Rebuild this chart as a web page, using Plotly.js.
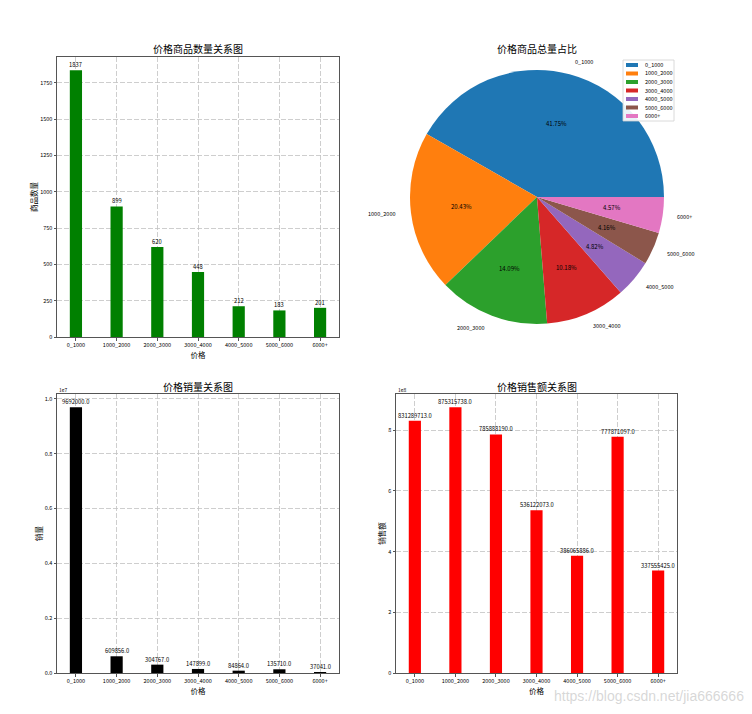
<!DOCTYPE html>
<html>
<head>
<meta charset="utf-8">
<script src="https://cdn.plot.ly/plotly-3.0.1.min.js"></script>
<style>html,body{margin:0;padding:0;background:#fff;}#chart{width:752px;height:714px;}</style>
</head>
<body>
<div id="chart"></div>
<script>
const categories = ['0_1000','1000_2000','2000_3000','3000_4000','4000_5000','5000_6000','6000+'];
const counts = [1837, 899, 620, 448, 212, 183, 201];
const sales = [9692000, 609856, 304767, 147899, 84864, 135710, 37041];
const revenue = [831289713, 875315738, 785888190, 536122073, 386065886, 777871097, 337555425];
const pieColors = ['#1f77b4','#ff7f0e','#2ca02c','#d62728','#9467bd','#8c564b','#e377c2'];
const countTickVals = [0, 250, 500, 750, 1000, 1250, 1500, 1750];
const salesTickVals = [0, 2e6, 4e6, 6e6, 8e6, 1e7];
const salesTickText = ['0.0', '0.2', '0.4', '0.6', '0.8', '1.0'];
const revenueTickVals = [0, 2e8, 4e8, 6e8, 8e8];
const revenueTickText = ['0', '2', '4', '6', '8'];

const W = 752, H = 714;
const px = v => v / W;
const py = v => 1 - v / H;
const FONT = '"Noto Sans CJK SC", "DejaVu Sans", sans-serif';

const annotations = [];

function barTrace(vals, color, xa, ya, fmt) {
  vals.forEach((v, i) => annotations.push({
    xref: xa, yref: ya, x: categories[i], y: v, text: fmt(v), showarrow: false,
    xanchor: 'center', yanchor: 'bottom', borderpad: 0, font: {size: 5.8, color: '#000', family: FONT}
  }));
  return {
    type: 'bar', x: categories, y: vals, width: 0.3,
    marker: {color: color, line: {width: 0}},
    xaxis: xa, yaxis: ya, showlegend: false, hoverinfo: 'x+y'
  };
}

const traces = [
  barTrace(counts, '#008000', 'x', 'y', v => String(v)),
  barTrace(sales, '#000000', 'x2', 'y2', v => v.toFixed(1)),
  barTrace(revenue, '#ff0000', 'x3', 'y3', v => v.toFixed(1))
];

// pie
const cx = 537, cy = 197, R = 127;
const total = counts.reduce((a, b) => a + b, 0);
traces.push({
  type: 'pie', labels: categories, values: counts, sort: false,
  direction: 'counterclockwise', rotation: 90 - 360 * counts[0] / total, textinfo: 'none',
  marker: {colors: pieColors, line: {width: 0}},
  domain: {x: [px(cx - R), px(cx + R)], y: [py(cy + R), py(cy - R)]},
  showlegend: false, hoverinfo: 'label+percent'
});

let cum = 0;
counts.forEach((v, i) => {
  const mid = (cum + v / 2) / total * 2 * Math.PI;
  cum += v;
  const c = Math.cos(mid), s = Math.sin(mid);
  annotations.push({
    xref: 'paper', yref: 'paper', x: px(cx + 1.1 * R * c), y: py(cy - 1.1 * R * s),
    text: categories[i], showarrow: false, xanchor: c >= 0 ? 'left' : 'right', yanchor: 'middle',
    font: {size: 5.5, color: '#000', family: FONT}
  });
  annotations.push({
    xref: 'paper', yref: 'paper', x: px(cx + 0.6 * R * c), y: py(cy - 0.6 * R * s),
    text: (v / total * 100).toFixed(2) + '%', showarrow: false, xanchor: 'center', yanchor: 'middle',
    font: {size: 6, color: '#000', family: FONT}
  });
});

// manual legend
const shapes = [];
shapes.push({type: 'rect', xref: 'paper', yref: 'paper', x0: px(623), x1: px(674), y0: py(121), y1: py(60),
  line: {color: '#d0d0d0', width: 0.8}, fillcolor: 'rgba(255,255,255,0.9)', layer: 'above'});
categories.forEach((c, i) => {
  const yc = 65 + i * 8.5;
  shapes.push({type: 'rect', xref: 'paper', yref: 'paper', x0: px(626), x1: px(638), y0: py(yc + 2), y1: py(yc - 2),
    line: {width: 0}, fillcolor: pieColors[i], layer: 'above'});
  annotations.push({xref: 'paper', yref: 'paper', x: px(643), y: py(yc), text: c, showarrow: false,
    xanchor: 'left', yanchor: 'middle', font: {size: 5.5, color: '#000', family: FONT}});
});

// subplot titles
const titles = [['价格商品数量关系图', 198, 49], ['价格商品总量占比', 537, 49], ['价格销量关系图', 198, 386], ['价格销售额关系图', 537, 386]];
titles.forEach(t => annotations.push({xref: 'paper', yref: 'paper', x: px(t[1]), y: py(t[2]), text: t[0],
  showarrow: false, xanchor: 'center', yanchor: 'middle', font: {size: 10, color: '#000', family: FONT}}));

// offset texts
annotations.push({xref: 'paper', yref: 'paper', x: px(57), y: py(390), text: '1e7', showarrow: false,
  xanchor: 'left', yanchor: 'middle', font: {size: 5, color: '#000', family: FONT}});
annotations.push({xref: 'paper', yref: 'paper', x: px(396), y: py(390), text: '1e8', showarrow: false,
  xanchor: 'left', yanchor: 'middle', font: {size: 5, color: '#000', family: FONT}});

// watermark
annotations.push({xref: 'paper', yref: 'paper', x: px(746), y: py(696), text: 'https://blog.csdn.net/jia666666', showarrow: false,
  xanchor: 'right', yanchor: 'middle', font: {size: 14, color: 'rgba(175,175,175,0.5)', family: '"Liberation Sans", Arial, sans-serif'}});

function xAxis(dom, anchor) {
  return {
    domain: dom, anchor: anchor, type: 'category', range: [-0.465, 6.465],
    showgrid: true, gridcolor: '#c2c2c2', griddash: '5px,2px', gridwidth: 0.8,
    showline: true, mirror: true, linecolor: '#555', linewidth: 1,
    ticks: 'outside', ticklen: 2.5, tickcolor: '#555', tickfont: {size: 5.5, color: '#000', family: FONT},
    title: {text: '价格', font: {size: 7.5, color: '#000', family: FONT}, standoff: 0},
    layer: 'above traces', fixedrange: true
  };
}
function yAxis(dom, anchor, range, tv, tt, title) {
  const a = {
    domain: dom, anchor: anchor, range: range, tickmode: 'array', tickvals: tv,
    showgrid: true, gridcolor: '#c2c2c2', griddash: '5px,2px', gridwidth: 0.8, zeroline: false,
    showline: true, mirror: true, linecolor: '#555', linewidth: 1,
    ticks: 'outside', ticklen: 2.5, tickcolor: '#555', tickfont: {size: 5.5, color: '#000', family: FONT},
    title: {text: title, font: {size: 7.5, color: '#000', family: FONT}, standoff: 1},
    layer: 'above traces', fixedrange: true
  };
  if (tt) a.ticktext = tt;
  return a;
}

const topY = [py(337), py(57)], botY = [py(673), py(394)];
const leftX = [px(57), px(339)], rightX = [px(396), px(677)];

const layout = {
  width: W, height: H, margin: {l: 0, r: 0, t: 0, b: 0},
  paper_bgcolor: '#fff', plot_bgcolor: '#fff', font: {family: FONT, color: '#000'},
  showlegend: false,
  xaxis: xAxis(leftX, 'y'),
  yaxis: yAxis(topY, 'x', [0, 1837 * 1.05], countTickVals, null, '商品数量'),
  xaxis2: xAxis(leftX, 'y2'),
  yaxis2: yAxis(botY, 'x2', [0, 9692000 * 1.05], salesTickVals, salesTickText, '销量'),
  xaxis3: xAxis(rightX, 'y3'),
  yaxis3: yAxis(botY, 'x3', [0, 875315738 * 1.05], revenueTickVals, revenueTickText, '销售额'),
  annotations: annotations, shapes: shapes
};

Plotly.newPlot('chart', traces, layout, {displayModeBar: false, staticPlot: true});
</script>
</body>
</html>
